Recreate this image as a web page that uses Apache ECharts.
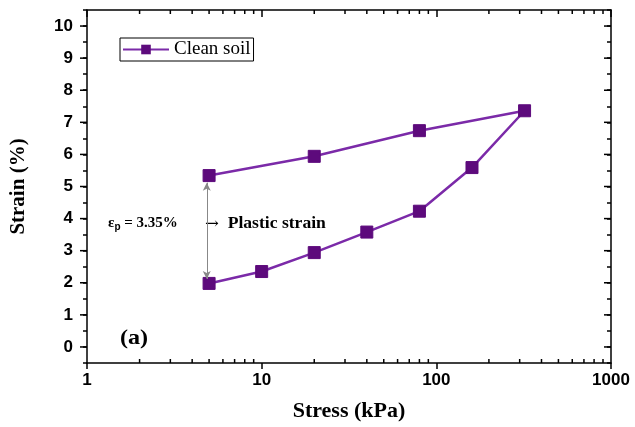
<!DOCTYPE html>
<html>
<head>
<meta charset="utf-8">
<script src="https://cdn.jsdelivr.net/npm/echarts@6/dist/echarts.min.js"></script>
<style>
  html, body { margin: 0; padding: 0; background: #fff; }
  #chart { width: 635px; height: 427px; }
</style>
</head>
<body>
<div id="chart"></div>
<script>
// Consolidation path: loading 5 -> 320 kPa, then unloading back to 5 kPa
const stress = [5, 10, 20, 40, 80, 160, 320, 80, 20, 5];
const strain = [1.98, 2.35, 2.94, 3.58, 4.23, 5.59, 7.36, 6.74, 5.94, 5.34];
const seriesName = 'Clean soil';

// Plastic strain marker (vertical double arrow between reload states)
const arrowStress = 4.85;
const arrowFrom = 2.12;
const arrowTo = 5.12;

// Log-axis minor tick positions
const minorTicks = [2, 3, 4, 5, 6, 7, 8, 9, 20, 30, 40, 50, 60, 70, 80, 90, 200, 300, 400, 500, 600, 700, 800, 900];
// Integer strain ticks, drawn longer than the half-step ticks
const strainMajor = [0, 1, 2, 3, 4, 5, 6, 7, 8, 9, 10];

const points = stress.map((s, i) => [s, strain[i]]);

const tickFont = { fontFamily: 'Liberation Sans', fontWeight: 'bold', fontSize: 17, color: '#000' };
const serif = 'Liberation Serif';
const tickStyle = { stroke: '#000', lineWidth: 1.5 };

const chart = echarts.init(document.getElementById('chart'));
chart.setOption({
  animation: false,
  backgroundColor: '#fff',
  grid: { left: 85, right: 24, top: 10, bottom: 64, containLabel: false },
  legend: {
    data: [seriesName],
    left: 120, top: 38,
    itemWidth: 46, itemHeight: 12,
    itemGap: 4,
    padding: [2, 3, 2, 2],
    borderColor: '#000', borderWidth: 1, borderRadius: 0,
    backgroundColor: '#fff',
    textStyle: { fontFamily: serif, fontSize: 19, color: '#000' }
  },
  xAxis: [
    {
      type: 'log', logBase: 10, min: 1, max: 1000, position: 'bottom',
      name: 'Stress (kPa)', nameLocation: 'middle', nameGap: 37,
      nameTextStyle: { fontFamily: serif, fontWeight: 'bold', fontSize: 22, color: '#000' },
      axisLine: { onZero: false, lineStyle: { color: '#000', width: 1.5 } },
      axisTick: { show: true, inside: false, length: 6, lineStyle: { color: '#000', width: 1.5 } },
      axisLabel: Object.assign({ margin: 9, formatter: v => String(Math.round(v)) }, tickFont),
      splitLine: { show: false }
    },
    {
      type: 'log', logBase: 10, min: 1, max: 1000, position: 'top',
      axisLine: { onZero: false, lineStyle: { color: '#000', width: 1.5 } },
      axisTick: { show: true, inside: true, length: 7, lineStyle: { color: '#000', width: 1.5 } },
      axisLabel: { show: false },
      splitLine: { show: false }
    }
  ],
  yAxis: [
    {
      type: 'value', min: -0.5, max: 10.5, interval: 0.5, position: 'left',
      name: 'Strain (%)', nameLocation: 'middle', nameGap: 58, nameRotate: 90,
      nameTextStyle: { fontFamily: serif, fontWeight: 'bold', fontSize: 21, color: '#000' },
      axisLine: { show: true, onZero: false, lineStyle: { color: '#000', width: 1.5 } },
      axisTick: { show: true, inside: false, length: 4, lineStyle: { color: '#000', width: 1.5 } },
      axisLabel: Object.assign({
        margin: 14,
        formatter: v => (Math.abs(v - Math.round(v)) < 1e-6 ? String(Math.round(v)) : '')
      }, tickFont),
      splitLine: { show: false }
    },
    {
      type: 'value', min: -0.5, max: 10.5, interval: 0.5, position: 'right',
      axisLine: { show: true, onZero: false, lineStyle: { color: '#000', width: 1.5 } },
      axisTick: { show: true, inside: true, length: 4, lineStyle: { color: '#000', width: 1.5 } },
      axisLabel: { show: false },
      splitLine: { show: false }
    }
  ],
  series: [
    {
      name: seriesName,
      type: 'line',
      xAxisIndex: 0, yAxisIndex: 0,
      data: points,
      symbol: 'rect', symbolSize: 12,
      itemStyle: { color: '#5d0a7c', borderColor: '#5d0a7c' },
      lineStyle: { color: '#7b2aa8', width: 2.5 },
      z: 3,
      markLine: {
        silent: true,
        symbol: ['arrow', 'arrow'],
        symbolSize: [6, 8],
        label: { show: false },
        lineStyle: { color: '#888', width: 1, type: 'solid' },
        itemStyle: { color: '#000' },
        data: [[{ coord: [arrowStress, arrowFrom] }, { coord: [arrowStress, arrowTo] }]]
      }
    },
    {
      // minor ticks of the log axes, drawn inward on bottom and top edges
      type: 'custom',
      xAxisIndex: 0, yAxisIndex: 0,
      silent: true,
      data: minorTicks.map(v => [v]),
      renderItem: function (params, api) {
        const x = api.coord([api.value(0), 0])[0];
        const cs = params.coordSys;
        return {
          type: 'group',
          children: [
            { type: 'line', shape: { x1: x, y1: cs.y + cs.height, x2: x, y2: cs.y + cs.height - 4 }, style: tickStyle },
            { type: 'line', shape: { x1: x, y1: cs.y, x2: x, y2: cs.y + 4 }, style: tickStyle }
          ]
        };
      }
    },
    {
      // integer ticks on left (outward) and right (inward) strain axes
      type: 'custom',
      xAxisIndex: 0, yAxisIndex: 0,
      silent: true,
      data: strainMajor.map(v => [1, v]),
      renderItem: function (params, api) {
        const y = api.coord([1, api.value(1)])[1];
        const cs = params.coordSys;
        return {
          type: 'group',
          children: [
            { type: 'line', shape: { x1: cs.x, y1: y, x2: cs.x - 7, y2: y }, style: tickStyle },
            { type: 'line', shape: { x1: cs.x + cs.width, y1: y, x2: cs.x + cs.width - 7, y2: y }, style: tickStyle }
          ]
        };
      }
    }
  ],
  graphic: [
    {
      type: 'text', left: 108, top: 216,
      style: {
        text: '{e|ε}{s|p}{t| = 3.35%}',
        rich: {
          e: { fontFamily: serif, fontSize: 15, fontWeight: 'bold', fill: '#000' },
          s: { fontFamily: 'Liberation Sans', fontSize: 10, fontWeight: 'bold', fill: '#000', padding: [8, 0, 0, 0] },
          t: { fontFamily: serif, fontSize: 15, fontWeight: 'bold', fill: '#000' }
        }
      }
    },
    {
      type: 'text', left: 205, top: 216, scaleX: 1.1,
      style: {
        text: '{a|\u2192}{t|Plastic strain}',
        rich: {
          a: { fontFamily: 'DejaVu Serif', fontSize: 15, fill: '#000', padding: [0, 8, 0, 0] },
          t: { fontFamily: serif, fontSize: 16, fontWeight: 'bold', fill: '#000' }
        }
      }
    },
    {
      type: 'text', left: 120, top: 328, scaleX: 1.15,
      style: { text: '(a)', fontFamily: serif, fontSize: 21, fontWeight: 'bold', fill: '#000' }
    }
  ]
});
</script>
</body>
</html>
